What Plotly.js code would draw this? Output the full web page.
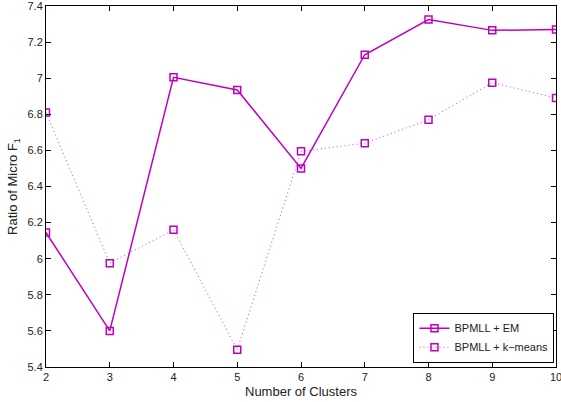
<!DOCTYPE html>
<html><head><meta charset="utf-8">
<script src="https://cdn.plot.ly/plotly-3.0.1.min.js"></script>
<style>html,body{margin:0;padding:0;background:#fff}#c{width:561px;height:402px}</style>
</head><body><div id="c"></div>
<script>
const clusters = [2, 3, 4, 5, 6, 7, 8, 9, 10];
const emValues = [6.145, 5.60, 7.005, 6.935, 6.50, 7.13, 7.325, 7.265, 7.27];
const kmeansValues = [6.81, 5.975, 6.16, 5.495, 6.595, 6.64, 6.77, 6.975, 6.89];
const xTicks = [2, 3, 4, 5, 6, 7, 8, 9, 10];
const yTicks = [5.4, 5.6, 5.8, 6, 6.2, 6.4, 6.6, 6.8, 7, 7.2, 7.4];
const col = '#c000c0';
const traces = [
  {x: clusters, y: emValues, name: 'BPMLL + EM', mode: 'lines+markers',
   line: {color: col, width: 1.5},
   marker: {symbol: 'square-open', size: 7, color: col, line: {width: 1.5, color: col}}},
  {x: clusters, y: kmeansValues, name: 'BPMLL + k\u2212means', mode: 'lines+markers',
   line: {color: '#d040d0', width: 1, dash: '1px,3px'},
   marker: {symbol: 'square-open', size: 7, color: col, line: {width: 1.5, color: col}}}
];
const axisCommon = {showline: true, linecolor: '#000', linewidth: 1, mirror: 'ticks',
  ticks: 'inside', ticklen: 5, tickcolor: '#000', showgrid: false, zeroline: false,
  ticklabeloverflow: 'allow',
  tickfont: {family: 'Liberation Sans, Arial, sans-serif', size: 11, color: '#222'}};
const layout = {
  width: 561, height: 402,
  margin: {l: 46, r: 5, t: 6, b: 35},
  paper_bgcolor: '#fff', plot_bgcolor: '#fff',
  font: {family: 'Liberation Sans, Arial, sans-serif', size: 12, color: '#222'},
  xaxis: Object.assign({}, axisCommon, {range: [2, 10], tickvals: xTicks, ticktext: xTicks.map(String),
    title: {text: 'Number of Clusters', font: {size: 13}, standoff: 4}}),
  yaxis: Object.assign({}, axisCommon, {range: [5.4, 7.4], tickvals: yTicks, ticktext: yTicks.map(String),
    title: {text: 'Ratio of Micro F<sub>1</sub>', font: {size: 13}, standoff: 6}}),
  showlegend: true,
  legend: {x: 0.997, y: 0.012, xanchor: 'right', yanchor: 'bottom', bgcolor: '#fff',
    bordercolor: '#000', borderwidth: 1, font: {size: 11, color: '#222'},
    tracegroupgap: 0, itemwidth: 30}
};
Plotly.newPlot('c', traces, layout, {displayModeBar: false, staticPlot: true});
</script></body></html>
